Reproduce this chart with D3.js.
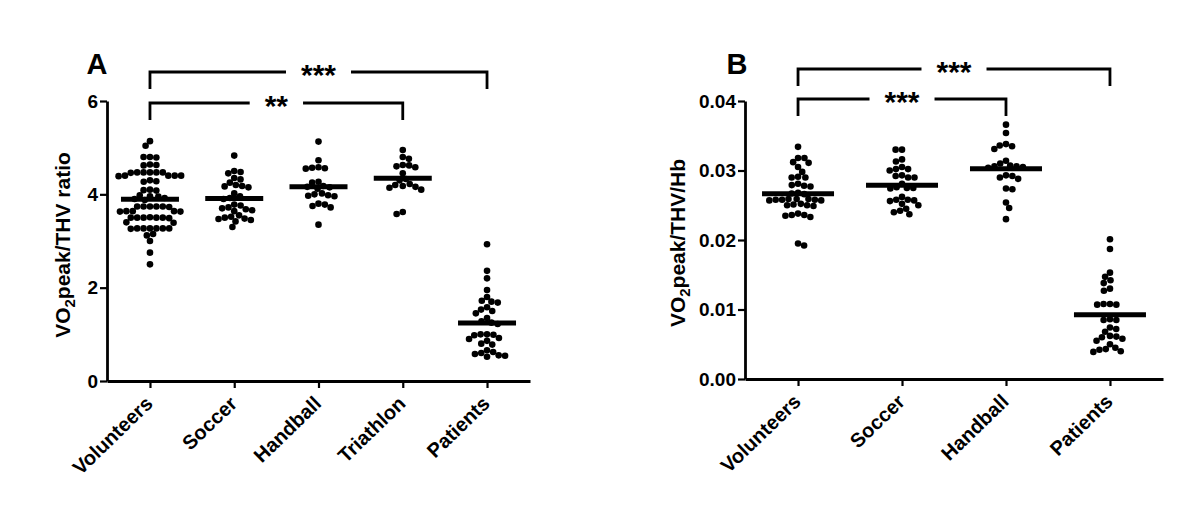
<!DOCTYPE html>
<html>
<head>
<meta charset="utf-8">
<script src="https://cdn.jsdelivr.net/npm/d3@7/dist/d3.min.js"></script>
<style>
  body { margin: 0; background: #fff; }
  svg { display: block; font-family: Arial, 'Liberation Sans', sans-serif; }
</style>
</head>
<body>
<svg id="chart" width="1200" height="531"></svg>
<script>
// panel A: VO2peak / THV ratio
const groupsA = ['Volunteers', 'Soccer', 'Handball', 'Triathlon', 'Patients']
const ratioVolunteers = [5.14, 5.04, 4.8, 4.79, 4.8, 4.63, 4.62, 4.64, 4.47, 4.47, 4.47, 4.46, 4.47, 4.47,
  4.4, 4.4, 4.39, 4.4, 4.4, 4.28, 4.3, 4.27, 4.09, 4.1, 4.08, 3.98, 3.96, 3.95, 3.92, 3.9, 3.88, 3.74, 3.74,
  3.73, 3.74, 3.74, 3.74, 3.64, 3.63, 3.64, 3.64, 3.63, 3.51, 3.5, 3.5, 3.49, 3.5, 3.5, 3.5, 3.4, 3.39,
  3.27, 3.27, 3.26, 3.27, 3.27, 3.27, 3.27, 3.15, 3.12, 3.0, 2.75, 2.5]
const ratioSoccer = [4.83, 4.5, 4.48, 4.45, 4.35, 4.32, 4.25, 4.2, 4.18, 4.17, 4.15, 4.02, 3.96, 3.92, 3.9,
  3.78, 3.76, 3.72, 3.7, 3.68, 3.66, 3.64, 3.55, 3.52, 3.5, 3.48, 3.47, 3.45, 3.42, 3.3]
const ratioHandball = [5.13, 4.73, 4.58, 4.56, 4.55, 4.57, 4.27, 4.25, 4.18, 4.16, 4.15, 4.12, 4.02, 4.0,
  3.98, 3.97, 3.96, 3.8, 3.78, 3.75, 3.72, 3.35]
const ratioTriathlon = [4.95, 4.8, 4.76, 4.63, 4.62, 4.6, 4.58, 4.45, 4.33, 4.3, 4.22, 4.2, 4.18, 4.16, 4.14,
  4.1, 3.62, 3.58]
const ratioPatients = [2.93, 2.36, 2.2, 1.95, 1.8, 1.72, 1.7, 1.68, 1.58, 1.53, 1.5, 1.45, 1.35, 1.28, 1.25,
  1.22, 1.0, 1.0, 0.99, 0.98, 0.92, 0.9, 0.86, 0.8, 0.78, 0.66, 0.62, 0.58, 0.55, 0.52, 0.54, 0.6]
const ticksA = [0, 2, 4, 6]
const bracketsA = [
  { from: 'Volunteers', to: 'Patients', label: '***', level: 0 },
  { from: 'Volunteers', to: 'Triathlon', label: '**', level: 1 }
]

// panel B: VO2peak / THV / Hb
const groupsB = ['Volunteers', 'Soccer', 'Handball', 'Patients']
const hbVolunteers = [0.0334, 0.0318, 0.0318, 0.0312, 0.0311, 0.0305, 0.0298, 0.029, 0.0291, 0.029, 0.0279,
  0.0278, 0.0277, 0.0281, 0.0268, 0.0267, 0.0266, 0.0259, 0.0258, 0.0259, 0.0257, 0.0258, 0.0259, 0.0258,
  0.0257, 0.025, 0.0249, 0.0251, 0.025, 0.0252, 0.0238, 0.0236, 0.0233, 0.0236, 0.0235, 0.0192, 0.0195]
const hbSoccer = [0.033, 0.033, 0.0313, 0.0305, 0.0316, 0.0302, 0.03, 0.0293, 0.029, 0.029, 0.0292, 0.0302,
  0.0281, 0.0275, 0.0274, 0.0276, 0.0275, 0.0262, 0.0258, 0.0257, 0.025, 0.0252, 0.0256, 0.0258, 0.0242,
  0.0237, 0.024, 0.0245]
const hbHandball = [0.0366, 0.0354, 0.0336, 0.0331, 0.0335, 0.0338, 0.0314, 0.031, 0.0307, 0.0306, 0.0305,
  0.0304, 0.0306, 0.0293, 0.0288, 0.0292, 0.029, 0.0273, 0.0274, 0.0254, 0.0246, 0.023]
const hbPatients = [0.0201, 0.0187, 0.0153, 0.0147, 0.0142, 0.0138, 0.013, 0.0127, 0.0108, 0.0107, 0.0108,
  0.0107, 0.0085, 0.0086, 0.0085, 0.0074, 0.0072, 0.0068, 0.0062, 0.0058, 0.006, 0.0055, 0.0045, 0.0042,
  0.0039, 0.004, 0.0043, 0.005, 0.0061]
const ticksB = [0, 0.01, 0.02, 0.03, 0.04]
const bracketsB = [
  { from: 'Volunteers', to: 'Patients', label: '***', level: 0 },
  { from: 'Volunteers', to: 'Handball', label: '***', level: 1 }
]

const svg = d3.select('#chart')
const dotR = 3.3
const dotGap = 6.4

// simple beeswarm: each dot goes to the free x offset nearest its category centre
const swarm = (values, y, d) => {
  const pts = values.slice().sort((a, b) => b - a).map(v => ({ v, y: y(v), dx: 0 }))
  const placed = []
  pts.forEach((p, i) => {
    const cands = [0]
    placed.forEach(q => {
      const dy = Math.abs(q.y - p.y)
      if (dy < d) {
        const dx = Math.sqrt(d * d - dy * dy)
        cands.push(q.dx + dx + 0.01, q.dx - dx - 0.01)
      }
    })
    const side = i % 2 ? 1 : -1
    cands.sort((a, b) => Math.abs(a) - Math.abs(b) || side * (a - b))
    p.dx = cands.find(c => placed.every(q => (q.dx - c) ** 2 + (q.y - p.y) ** 2 >= d * d - 0.1))
    placed.push(p)
  })
  return placed
}

const drawPanel = cfg => {
  const g = svg.append('g')
  const x = d3.scalePoint().domain(cfg.groups).range([cfg.x0, cfg.x1]).padding(0.51)
  const y = d3.scaleLinear().domain(cfg.yDomain).range([cfg.yBottom, cfg.yTop])

  const yAxis = g.append('g')
    .attr('transform', `translate(${cfg.x0},0)`)
    .call(d3.axisLeft(y).tickValues(cfg.ticks).tickFormat(cfg.fmt).tickSize(7).tickSizeOuter(0).tickPadding(2))
  const xAxis = g.append('g')
    .attr('transform', `translate(0,${cfg.yBottom})`)
    .call(d3.axisBottom(x).tickSize(7).tickSizeOuter(0).tickFormat(''))

  ;[yAxis, xAxis].forEach(a => {
    a.select('.domain').attr('stroke', '#000').attr('stroke-width', 2.8)
    a.selectAll('.tick line').attr('stroke', '#000').attr('stroke-width', 2.2)
  })
  yAxis.selectAll('.tick text')
    .attr('font-size', 19).attr('font-weight', 'bold').attr('fill', '#000')
    .attr('font-family', "Arial, 'Liberation Sans', sans-serif")

  // rotated category labels
  g.selectAll('.xlab')
    .data(cfg.groups)
    .enter()
    .append('text')
    .attr('class', 'xlab')
    .attr('transform', d => `translate(${x(d) + 4},${cfg.yBottom + 24}) rotate(-44)`)
    .attr('text-anchor', 'end')
    .attr('font-size', 20)
    .attr('font-weight', 'bold')
    .text(d => d)

  // dots + mean bars
  cfg.groups.forEach((grp, i) => {
    const vals = cfg.series[i]
    const pts = swarm(vals, y, dotGap)
    g.append('g')
      .selectAll('circle')
      .data(pts)
      .enter()
      .append('circle')
      .attr('cx', d => x(grp) + d.dx)
      .attr('cy', d => d.y)
      .attr('r', dotR)
      .attr('fill', '#000')
    const m = d3.mean(vals)
    g.append('line')
      .attr('x1', x(grp) - cfg.barHalf)
      .attr('x2', x(grp) + cfg.barHalf)
      .attr('y1', y(m))
      .attr('y2', y(m))
      .attr('stroke', '#000')
      .attr('stroke-width', 5)
  })

  // significance brackets
  cfg.brackets.forEach(b => {
    const yl = cfg.bracketY[b.level]
    const xa = x(b.from)
    const xb = x(b.to)
    const mid = (xa + xb) / 2
    const t = g.append('text')
      .attr('x', mid)
      .attr('y', yl + 13)
      .attr('text-anchor', 'middle')
      .attr('font-size', 30)
      .attr('font-weight', 'bold')
      .text(b.label)
    const half = t.node().getComputedTextLength() / 2 + 15
    g.append('path')
      .attr('d', `M${xa},${yl + 17}V${yl}H${mid - half}M${mid + half},${yl}H${xb}V${yl + 17}`)
      .attr('fill', 'none')
      .attr('stroke', '#000')
      .attr('stroke-width', 2.8)
  })

  // panel letter
  g.append('text')
    .attr('x', cfg.letterX)
    .attr('y', 74)
    .attr('text-anchor', 'middle')
    .attr('font-size', 29)
    .attr('font-weight', 'bold')
    .text(cfg.letter)

  // y title with subscript 2
  const yt = g.append('text')
    .attr('transform', `translate(${cfg.titleX},${cfg.titleY}) rotate(-90)`)
    .attr('text-anchor', 'middle')
    .attr('font-size', 21)
    .attr('font-weight', 'bold')
  yt.append('tspan').text('VO')
  yt.append('tspan').attr('font-size', 15).attr('dy', 5).text('2')
  yt.append('tspan').attr('dy', -5).text(cfg.titleRest)
}

drawPanel({
  groups: groupsA,
  series: [ratioVolunteers, ratioSoccer, ratioHandball, ratioTriathlon, ratioPatients],
  ticks: ticksA,
  fmt: d3.format('d'),
  yDomain: [0, 6],
  x0: 107, x1: 530, yTop: 101, yBottom: 381,
  barHalf: 29,
  brackets: bracketsA,
  bracketY: [72, 103],
  letter: 'A', letterX: 97,
  titleX: 70, titleY: 245,
  titleRest: 'peak/THV ratio'
})

drawPanel({
  groups: groupsB,
  series: [hbVolunteers, hbSoccer, hbHandball, hbPatients],
  ticks: ticksB,
  fmt: d3.format('.2f'),
  yDomain: [0, 0.04],
  x0: 745, x1: 1163, yTop: 101, yBottom: 379,
  barHalf: 36,
  brackets: bracketsB,
  bracketY: [69, 99],
  letter: 'B', letterX: 737,
  titleX: 685, titleY: 243,
  titleRest: 'peak/THV/Hb'
})
</script>
</body>
</html>
